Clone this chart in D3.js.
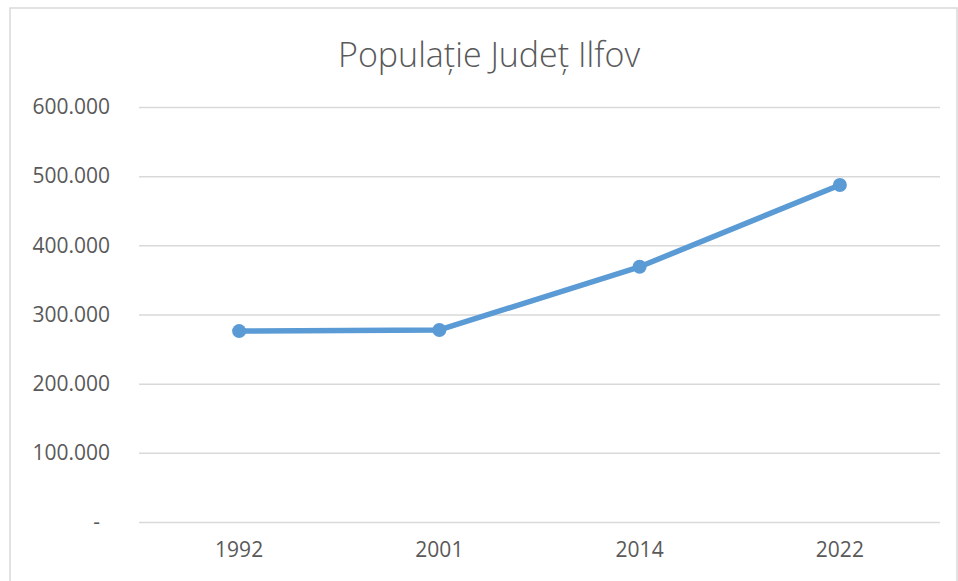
<html>
<head>
    <script src="https://d3js.org/d3.v7.min.js"></script>
    <style>
        body { margin: 0; background: #fff; }
        text { font-family: "Open Sans", sans-serif; fill: #595959; }
    </style>
</head>
<body>
    <svg id="svg" width="958" height="581"></svg>
    <script>
        // values
        const years = ["1992", "2001", "2014", "2022"];
        const population = [276000, 277600, 369000, 487200];
        const yTicks = [0, 100000, 200000, 300000, 400000, 500000, 600000];
        const title = "Populație Județ Ilfov";

        const svg = d3.select("#svg");
        const margin = { top: 107, right: 17, bottom: 59, left: 139 };
        const width = +svg.attr("width");
        const height = +svg.attr("height");

        // chart frame
        svg.append("rect")
            .attr("x", 10).attr("y", 8)
            .attr("width", 947).attr("height", 600)
            .style("fill", "#fff")
            .style("stroke", "#d9d9d9")
            .style("stroke-width", 1.5);

        const x = d3.scaleBand().domain(years).range([margin.left, width - margin.right - 1]);
        const y = d3.scaleLinear().domain([0, 600000]).range([height - margin.bottom, margin.top]);

        const fmt = v => v === 0 ? "-" : d3.format(",")(v).replace(/,/g, ".");

        // gridlines + y labels
        const yAxis = svg.append("g")
            .attr("transform", `translate(${margin.left},0)`)
            .call(d3.axisLeft(y).tickValues(yTicks).tickFormat(fmt)
                .tickSize(-(x.range()[1] - margin.left)).tickPadding(29));
        yAxis.select(".domain").remove();
        yAxis.selectAll(".tick line").style("stroke", "#d9d9d9").style("stroke-width", 1.5);
        yAxis.selectAll(".tick text")
            .style("font-size", "21px")
            .attr("dx", d => d === 0 ? -10 : 0);

        // x labels
        const xAxis = svg.append("g")
            .attr("transform", `translate(0,${y(0)})`)
            .call(d3.axisBottom(x).tickSize(0).tickPadding(20));
        xAxis.select(".domain").remove();
        xAxis.selectAll(".tick text").style("font-size", "21px");

        const pts = years.map((yr, i) => [x(yr) + x.bandwidth() / 2, y(population[i])]);

        svg.append("path")
            .attr("d", d3.line()(pts))
            .style("fill", "none")
            .style("stroke", "#5b9bd5")
            .style("stroke-width", 5.5)
            .style("stroke-linejoin", "round");

        svg.selectAll("circle.pt").data(pts)
            .join("circle")
            .attr("class", "pt")
            .attr("cx", d => d[0])
            .attr("cy", d => d[1])
            .attr("r", 7)
            .style("fill", "#5b9bd5");

        svg.append("text")
            .attr("x", 489)
            .attr("y", 67)
            .style("text-anchor", "middle")
            .style("font-size", "34px")
            .style("font-weight", 300)
            .text(title);
    </script>
</body>
</html>
